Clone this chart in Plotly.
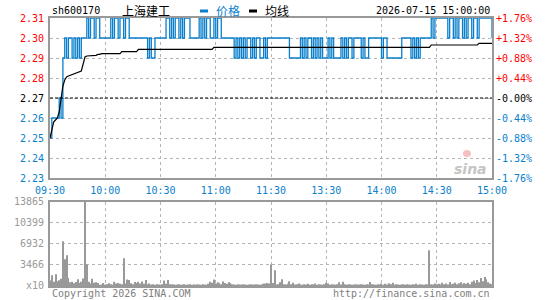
import plotly.graph_objects as go

# ---------------- data ----------------
symbol = "sh600170"
name = "上海建工"
timestamp = "2026-07-15 15:00:00"
prev_close = 2.27

time_labels = ["09:30", "10:00", "10:30", "11:00", "11:30", "13:30", "14:00", "14:30", "15:00"]
time_ticks = [0, 30, 60, 90, 120, 150, 180, 210, 240]

price = [
    2.25, 2.26, 2.26, 2.26, 2.26, 2.27, 2.26, 2.29, 2.30, 2.29,
    2.30, 2.30, 2.29, 2.30, 2.29, 2.30, 2.29, 2.30, 2.30, 2.30,
    2.31, 2.30, 2.31, 2.31, 2.30, 2.31, 2.31, 2.30, 2.30, 2.30,
    2.30, 2.30, 2.30, 2.31, 2.30, 2.31, 2.31, 2.30, 2.31, 2.31,
    2.30, 2.31, 2.31, 2.30, 2.30, 2.30, 2.30, 2.30, 2.30, 2.30,
    2.30, 2.30, 2.30, 2.29, 2.30, 2.29, 2.29, 2.30, 2.30, 2.30,
    2.30, 2.30, 2.30, 2.31, 2.31, 2.30, 2.31, 2.30, 2.31, 2.31,
    2.30, 2.31, 2.30, 2.31, 2.31, 2.31, 2.30, 2.30, 2.30, 2.30,
    2.30, 2.31, 2.30, 2.31, 2.30, 2.31, 2.31, 2.30, 2.30, 2.31,
    2.30, 2.31, 2.31, 2.30, 2.30, 2.30, 2.30, 2.30, 2.30, 2.30,
    2.29, 2.30, 2.29, 2.30, 2.29, 2.30, 2.29, 2.30, 2.30, 2.29,
    2.30, 2.29, 2.30, 2.30, 2.29, 2.29, 2.30, 2.29, 2.30, 2.30,
    2.30, 2.30, 2.30, 2.30, 2.30, 2.30, 2.30, 2.30, 2.30, 2.30,
    2.29, 2.29, 2.29, 2.29, 2.29, 2.29, 2.30, 2.29, 2.30, 2.29,
    2.30, 2.30, 2.29, 2.30, 2.29, 2.30, 2.29, 2.30, 2.29, 2.29,
    2.29, 2.30, 2.29, 2.30, 2.29, 2.29, 2.29, 2.29, 2.30, 2.29,
    2.30, 2.29, 2.30, 2.30, 2.29, 2.30, 2.30, 2.30, 2.30, 2.29,
    2.30, 2.29, 2.29, 2.30, 2.30, 2.30, 2.30, 2.30, 2.30, 2.30,
    2.29, 2.30, 2.30, 2.29, 2.29, 2.29, 2.29, 2.29, 2.29, 2.29,
    2.29, 2.30, 2.30, 2.30, 2.30, 2.30, 2.29, 2.30, 2.29, 2.30,
    2.29, 2.30, 2.30, 2.30, 2.30, 2.30, 2.30, 2.31, 2.30, 2.31,
    2.31, 2.31, 2.31, 2.31, 2.31, 2.31, 2.30, 2.31, 2.31, 2.30,
    2.31, 2.30, 2.31, 2.31, 2.30, 2.31, 2.30, 2.31, 2.31, 2.30,
    2.31, 2.31, 2.30, 2.31, 2.31, 2.31, 2.31, 2.31, 2.31, 2.31,
    2.30,
]

avg_minutes = [0, 1, 2, 3, 4, 5, 6, 7, 8, 9, 10, 13, 16, 17, 18, 19, 20, 25, 26, 27,
               28, 38, 39, 47, 48, 88, 89, 206, 207, 232, 233, 240]
avg_values = [2.2500, 2.2540, 2.2580, 2.2590, 2.2600, 2.2630, 2.2700, 2.2760, 2.2790, 2.2805,
              2.2810, 2.2820, 2.2830, 2.2835, 2.2870, 2.2905, 2.2910, 2.2913, 2.2918, 2.2918,
              2.2922, 2.2922, 2.2932, 2.2932, 2.2943, 2.2943, 2.2953, 2.2953, 2.2965, 2.2965,
              2.2973, 2.2973]

volume = [
    900, 1750, 700, 1950, 800, 950, 1200, 7380, 4400, 5070,
    1320, 600, 700, 450, 650, 1100, 500, 700, 1250, 13865,
    3530, 700, 400, 1200, 550, 600, 500, 200, 250, 500,
    250, 300, 450, 300, 200, 700, 400, 500, 350, 300,
    4570, 400, 1050, 1000, 450, 300, 650, 500, 700, 400,
    750, 350, 1000, 300, 400, 250, 300, 200, 300, 250,
    200, 300, 900, 350, 1000, 300, 250, 300, 200, 250,
    300, 200, 250, 300, 200, 250, 300, 200, 250, 200,
    300, 250, 200, 300, 250, 200, 350, 700, 550, 1050,
    400, 600, 450, 300, 750, 500, 350, 600, 500, 300,
    250, 200, 300, 250, 200, 300, 250, 200, 250, 300,
    200, 250, 300, 250, 200, 300, 400, 350, 500, 400,
    3530, 500, 2600, 250, 300, 600, 1100, 300, 250, 350,
    800, 300, 550, 250, 300, 400, 250, 200, 300, 250,
    350, 200, 300, 250, 400, 200, 300, 250, 200, 300,
    550, 400, 200, 300, 250, 200, 300, 600, 250, 700,
    300, 200, 250, 300, 200, 250, 300, 200, 250, 300,
    250, 200, 300, 250, 650, 300, 250, 200, 300, 250,
    400, 200, 350, 250, 450, 300, 550, 200, 300, 250,
    200, 300, 250, 200, 300, 250, 200, 300, 250, 350,
    200, 300, 250, 200, 300, 250, 5890, 300, 250, 400,
    300, 350, 250, 550, 300, 400, 250, 650, 300, 350,
    550, 300, 450, 600, 300, 500, 350, 550, 300, 700,
    900, 500, 1000, 600, 1300, 800, 1500, 1100, 600, 400,
    300,
]

price_levels = [2.31, 2.30, 2.29, 2.28, 2.27, 2.26, 2.25, 2.24, 2.23]
vol_tick_values = [13865, 10399, 6932, 3466, 0]
vol_tick_labels = ["13865", "10399", "6932", "3466", "x10"]

minutes = list(range(len(price)))

# ---------------- style ----------------
BLUE = "#0a7fcc"
RED = "#ff0000"
GRAY = "#999999"
GRID = "#b4b4b4"
MONO = "DejaVu Sans Mono"
CJK = "Noto Sans CJK SC"

fig = go.Figure()
fig.add_trace(go.Bar(x=minutes, y=volume, marker_color=GRAY, marker_line_width=0,
                     width=0.55, xaxis="x2", yaxis="y2", hoverinfo="skip"))
fig.add_trace(go.Scatter(x=minutes, y=price, mode="lines",
                         line=dict(color=BLUE, width=1.3, shape="hv"),
                         xaxis="x", yaxis="y", hoverinfo="skip"))
fig.add_trace(go.Scatter(x=avg_minutes, y=avg_values, mode="lines",
                         line=dict(color="#000000", width=1.2),
                         xaxis="x", yaxis="y", hoverinfo="skip"))

axis_common = dict(showline=True, mirror=True, linecolor=GRAY, linewidth=1.5,
                   zeroline=False, showgrid=True, gridcolor=GRID, gridwidth=1,
                   griddash="dot", ticks="", fixedrange=True)

fig.update_layout(
    width=545, height=300,
    margin=dict(l=50, r=53, t=18, b=14),
    paper_bgcolor="white", plot_bgcolor="white",
    showlegend=False,
    xaxis=dict(domain=[0, 1], anchor="y", range=[0, 240], tickmode="array",
               tickvals=time_ticks, ticktext=time_labels,
               tickfont=dict(family=MONO, size=10, color=BLUE),
               ticklabelstandoff=2, **axis_common),
    yaxis=dict(domain=[0.403, 1], anchor="x", range=[2.23, 2.31], tickmode="array",
               tickvals=price_levels[1:-1], showticklabels=False, **axis_common),
    xaxis2=dict(domain=[0, 1], anchor="y2", range=[0, 240], tickmode="array",
                tickvals=time_ticks[1:-1], showticklabels=False, **axis_common),
    yaxis2=dict(domain=[0, 0.3146], anchor="x2", range=[0, vol_tick_values[0]],
                tickmode="array", tickvals=vol_tick_values[1:-1],
                showticklabels=False, **axis_common),
)

# previous close reference line
fig.add_shape(type="line", xref="x", yref="y", x0=0, x1=240, y0=prev_close, y1=prev_close,
              line=dict(color="#000000", width=1, dash="3px,2px"))

ann = []
# left price labels and right percentage labels
for v in price_levels:
    col = RED if v > prev_close + 1e-9 else ("#000000" if abs(v - prev_close) < 1e-9 else BLUE)
    ann.append(dict(xref="paper", yref="y", x=0, y=v, xanchor="right", yanchor="middle",
                    xshift=-4, text=f"{v:.2f}", showarrow=False,
                    font=dict(family=MONO, size=10, color=col)))
    pct = (v - prev_close) / prev_close * 100
    sign = "+" if pct > 1e-9 else "-"
    ann.append(dict(xref="paper", yref="y", x=1, y=v, xanchor="left", yanchor="middle",
                    xshift=2, text=f"{sign}{abs(pct):.2f}%", showarrow=False,
                    font=dict(family=MONO, size=10, color=col)))
# volume labels
for v, t in zip(vol_tick_values, vol_tick_labels):
    ann.append(dict(xref="paper", yref="y2", x=0, y=v, xanchor="right", yanchor="middle",
                    xshift=-4, text=t, showarrow=False,
                    font=dict(family=MONO, size=10, color=GRAY)))

# header
ann.append(dict(xref="paper", yref="paper", x=0, y=1, xanchor="left", yanchor="middle",
                yshift=8, text=symbol, showarrow=False,
                font=dict(family=MONO, size=10, color="#000000")))
ann.append(dict(xref="paper", yref="paper", x=(120 - 50) / 442, y=1, xanchor="left",
                yanchor="middle", yshift=8, text=name, showarrow=False,
                font=dict(family=CJK, size=12, color="#000000")))
ann.append(dict(xref="paper", yref="paper", x=(214 - 50) / 442, y=1, xanchor="left",
                yanchor="middle", yshift=8, text="价格", showarrow=False,
                font=dict(family=CJK, size=12, color=BLUE)))
ann.append(dict(xref="paper", yref="paper", x=(263 - 50) / 442, y=1, xanchor="left",
                yanchor="middle", yshift=8, text="均线", showarrow=False,
                font=dict(family=CJK, size=12, color="#000000")))
ann.append(dict(xref="paper", yref="paper", x=1, y=1, xanchor="right",
                yanchor="middle", yshift=8, text=timestamp, showarrow=False,
                font=dict(family=MONO, size=10, color="#000000")))
# footer
ann.append(dict(xref="paper", yref="paper", x=0, y=0, xanchor="left",
                yanchor="middle", yshift=-7, text="Copyright 2026 SINA.COM", showarrow=False,
                font=dict(family=MONO, size=10, color="#808080")))
ann.append(dict(xref="paper", yref="paper", x=1, y=0, xanchor="right",
                yanchor="middle", yshift=-7, text="http://finance.sina.com.cn", showarrow=False,
                font=dict(family=MONO, size=10, color="#808080")))
# watermark
ann.append(dict(xref="paper", yref="y", x=1, y=2.2345, xanchor="right", yanchor="middle",
                xshift=-3, text="<b><i>sina</i></b>", showarrow=False,
                font=dict(family="DejaVu Sans", size=14, color="#c4c4c4")))
fig.update_layout(annotations=ann)

# watermark eye (decoration)
fig.add_shape(type="circle", xref="paper", yref="paper",
              x0=(463 - 50) / 442, x1=(471 - 50) / 442,
              y0=(286 - 157) / 268, y1=(286 - 150) / 268,
              fillcolor="#f4c0c0", line_width=0, layer="below")

# legend marks
for x0, col in [(200, BLUE), (249, "#000000")]:
    fig.add_shape(type="rect", xref="paper", yref="paper",
                  x0=(x0 - 50) / 442, x1=(x0 + 8 - 50) / 442,
                  y0=(286 - 12.5) / 268, y1=(286 - 9.5) / 268,
                  fillcolor=col, line_width=0, layer="above")

fig.write_html("out.html", config={"displayModeBar": False})
